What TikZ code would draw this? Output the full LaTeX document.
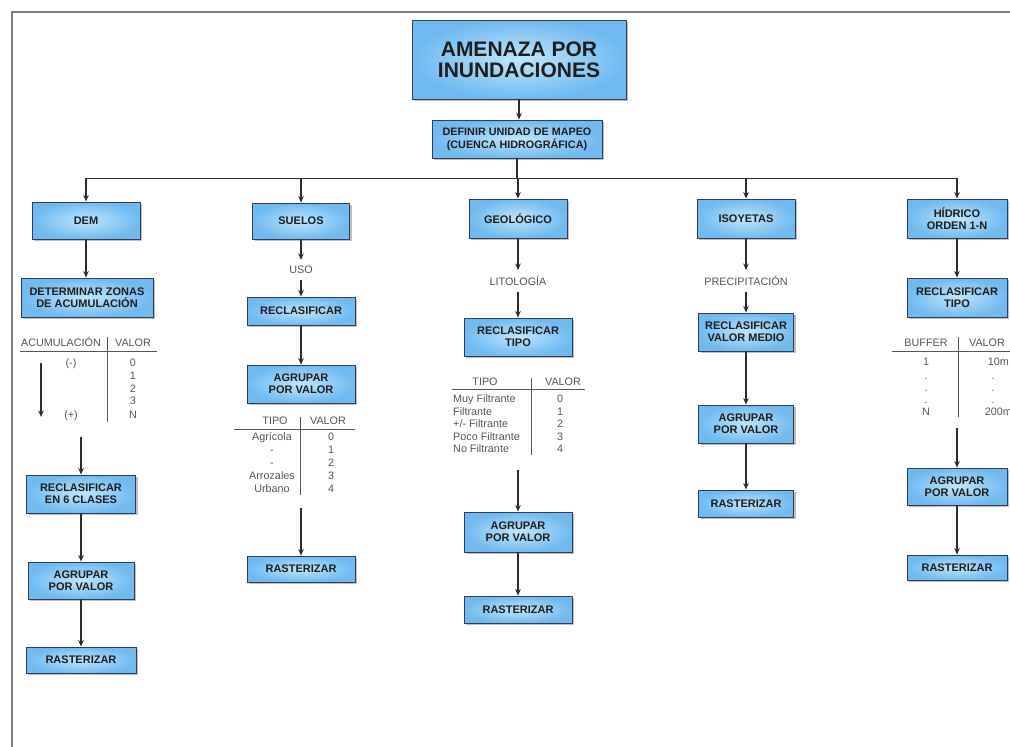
\documentclass[tikz,border=0pt]{standalone}
\usepackage{fontspec}
\setmainfont{Liberation Sans}
\usetikzlibrary{arrows.meta,shadows}

\definecolor{boxin}{RGB}{190,230,253}
\definecolor{boxout}{RGB}{112,186,240}
\definecolor{boxline}{RGB}{45,62,90}
\definecolor{boxtext}{RGB}{30,30,30}
\definecolor{wire}{RGB}{45,45,45}
\definecolor{tabtext}{RGB}{85,85,85}
\definecolor{framegray}{RGB}{125,125,125}

\tikzset{
  procbox/.style={draw=boxline, line width=0.9pt, inner color=boxin, outer color=boxout,
    drop shadow={shadow xshift=2pt, shadow yshift=-2pt, opacity=0.25, fill=black},
    text=boxtext, font=\fontsize{11}{12}\selectfont\bfseries, align=center, inner sep=0pt},
  arr/.style={draw=wire, line width=1.2pt, -{Stealth[length=6.5pt,width=5.5pt]}},
  wireline/.style={draw=wire, line width=1.2pt},
  lbl/.style={text=tabtext, font=\fontsize{10.8}{12}\selectfont, inner sep=6pt},
  cell/.style={text=tabtext, font=\fontsize{10.8}{12}\selectfont, inner sep=0pt,
    text height=7.8pt, text depth=2.2pt},
  tabrule/.style={draw=tabtext, line width=0.8pt},
  framerule/.style={draw=framegray, line width=1.2pt},
}

\begin{document}
\begin{tikzpicture}[x=1pt,y=-1pt]
\useasboundingbox (0,0) rectangle (1010,747);
\clip (0,0) rectangle (1010,747);

% page frame
\draw[framerule] (12,747) -- (12,12) -- (1010,12);

% top of the tree
\node[procbox, minimum width=214pt, minimum height=79pt,
      font=\fontsize{21}{21}\selectfont\bfseries] (title) at (519,59.5) {AMENAZA POR\\INUNDACIONES};
\node[procbox, minimum width=170pt, minimum height=38pt,
      font=\fontsize{10.8}{13}\selectfont\bfseries] (unidad) at (517,139) {DEFINIR UNIDAD DE MAPEO\\(CUENCA HIDROGRÁFICA)};
\draw[arr] (title) -- (title.south |- unidad.north);

% five branches
\node[procbox, minimum width=108pt, minimum height=37pt] (dem) at (86,220.5) {DEM};
\node[procbox, minimum width=97pt, minimum height=36pt] (suelos) at (301,221) {SUELOS};
\node[procbox, minimum width=98pt, minimum height=39pt] (geo) at (518,218.5) {GEOLÓGICO};
\node[procbox, minimum width=98pt, minimum height=39pt] (iso) at (746,218.5) {ISOYETAS};
\node[procbox, minimum width=100pt, minimum height=39pt] (hid) at (957,218.5) {HÍDRICO\\ORDEN 1-N};

\draw[wireline] (unidad.south) -- ++(0,20) coordinate (bus);
\draw[wireline] (dem.north |- bus) -- (hid.north |- bus);
\foreach \b in {dem,suelos,geo,iso,hid}
  \draw[arr] (\b.north |- bus) -- (\b.north);

% ---- DEM branch
\node[procbox, minimum width=132pt, minimum height=39pt] (zonas) at (87,297.5) {DETERMINAR ZONAS\\DE ACUMULACIÓN};
\draw[arr] (dem) -- (dem.south |- zonas.north);
\node[cell] (h1a) at (61,344) {ACUMULACIÓN};
\node[cell] (h1b) at (133,344) {VALOR};
\draw[tabrule] (20,351) -- (157,351);
\draw[tabrule] (107,337) -- (107,422);
\node[cell] at (71,364) {(-)};
\node[cell] at (71,416) {(+)};
\foreach \v/\y in {0/364,1/377,2/390,3/402,N/416}
  \node[cell] at (133,\y) {\v};
\coordinate (accA) at (41,363);
\coordinate (accB) at (41,417);
\draw[arr] (accA) -- (accB);
\node[procbox, minimum width=109pt, minimum height=38pt] (recl1) at (81,494) {RECLASIFICAR\\EN 6 CLASES};
\coordinate (t1) at (81,437);
\draw[arr] (t1) -- (recl1.north);
\node[procbox, minimum width=106pt, minimum height=37pt] (agr1) at (81,580.5) {AGRUPAR\\POR VALOR};
\draw[arr] (recl1) -- (agr1);
\node[procbox, minimum width=110pt, minimum height=26pt] (ras1) at (81,660) {RASTERIZAR};
\draw[arr] (agr1) -- (ras1);

% ---- SUELOS branch
\node[lbl] (uso) at (301,270) {USO};
\draw[arr] (suelos) -- (uso);
\node[procbox, minimum width=108pt, minimum height=28pt] (recl2) at (301,311) {RECLASIFICAR};
\draw[arr] (uso) -- (recl2);
\node[procbox, minimum width=108pt, minimum height=38pt] (agr2) at (301,384) {AGRUPAR\\POR VALOR};
\draw[arr] (recl2) -- (agr2);
\node[cell] at (275,422) {TIPO};
\node[cell] at (328,422) {VALOR};
\draw[tabrule] (234,429) -- (355,429);
\draw[tabrule] (300,417) -- (300,495);
\foreach \t/\v/\y in {Agrícola/0/438,-/1/451,-/2/464,Arrozales/3/477,Urbano/4/490}{
  \node[cell] at (272,\y) {\t};
  \node[cell] at (331,\y) {\v};
}
\node[procbox, minimum width=108pt, minimum height=26pt] (ras2) at (301,569) {RASTERIZAR};
\coordinate (t2) at (301,508);
\draw[arr] (t2) -- (ras2.north);

% ---- GEOLOGICO branch
\node[lbl] (lito) at (518,281) {LITOLOGÍA};
\draw[arr] (geo) -- (lito);
\node[procbox, minimum width=108pt, minimum height=38pt] (recl3) at (518,337) {RECLASIFICAR\\TIPO};
\draw[arr] (lito) -- (recl3);
\node[cell] at (485,383) {TIPO};
\node[cell] at (563,383) {VALOR};
\draw[tabrule] (452,389) -- (585,389);
\draw[tabrule] (531,378) -- (531,455);
\foreach \t/\v/\y in {{Muy Filtrante}/0/400,{Filtrante}/1/412.5,{+/- Filtrante}/2/425,{Poco Filtrante}/3/437.5,{No Filtrante}/4/450}{
  \node[cell, anchor=west] at (453,\y) {\t};
  \node[cell] at (560,\y) {\v};
}
\node[procbox, minimum width=108pt, minimum height=40pt] (agr3) at (518,532) {AGRUPAR\\POR VALOR};
\coordinate (t3) at (518,470);
\draw[arr] (t3) -- (agr3.north);
\node[procbox, minimum width=108pt, minimum height=27pt] (ras3) at (518,609.5) {RASTERIZAR};
\draw[arr] (agr3) -- (ras3);

% ---- ISOYETAS branch
\node[lbl] (prec) at (746,281) {PRECIPITACIÓN};
\draw[arr] (iso) -- (prec);
\node[procbox, minimum width=95pt, minimum height=38pt] (recl4) at (746,332) {RECLASIFICAR\\VALOR MEDIO};
\draw[arr] (prec) -- (recl4);
\node[procbox, minimum width=95pt, minimum height=38pt] (agr4) at (746,424) {AGRUPAR\\POR VALOR};
\draw[arr] (recl4) -- (agr4);
\node[procbox, minimum width=95pt, minimum height=27pt] (ras4) at (746,503.5) {RASTERIZAR};
\draw[arr] (agr4) -- (ras4);

% ---- HIDRICO branch
\node[procbox, minimum width=100pt, minimum height=39pt] (recl5) at (957,297.5) {RECLASIFICAR\\TIPO};
\draw[arr] (hid) -- (recl5);
\node[cell] at (926,344) {BUFFER};
\node[cell] at (987,344) {VALOR};
\draw[tabrule] (892,351) -- (1010,351);
\draw[tabrule] (958,337) -- (958,417);
\node[cell] at (926,363) {1};
\node[cell, anchor=east] at (1009,363) {10m};
\foreach \y in {377,389,401}{
  \node[cell] at (926,\y) {.};
  \node[cell] at (993,\y) {.};
}
\node[cell] at (926,413) {N};
\node[cell, anchor=east] at (1012,413) {200m};
\node[procbox, minimum width=100pt, minimum height=37pt] (agr5) at (957,486.5) {AGRUPAR\\POR VALOR};
\coordinate (t5) at (957,428);
\draw[arr] (t5) -- (agr5.north);
\node[procbox, minimum width=100pt, minimum height=25pt] (ras5) at (957,567.5) {RASTERIZAR};
\draw[arr] (agr5) -- (ras5);
\end{tikzpicture}
\end{document}
